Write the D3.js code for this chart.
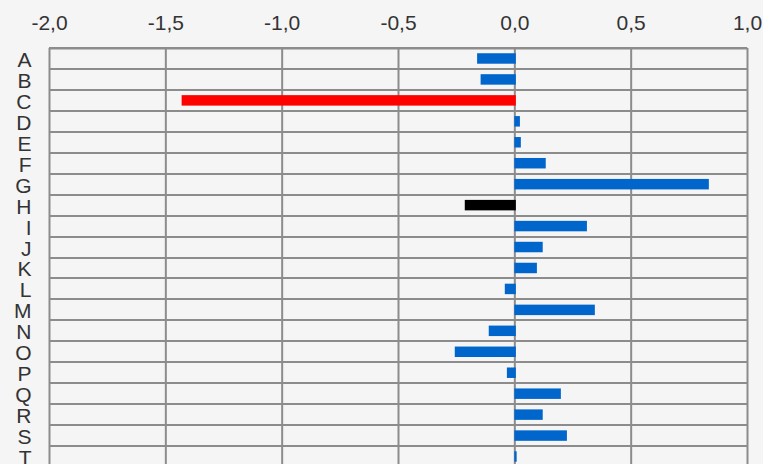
<!DOCTYPE html>
<html>
<head>
<meta charset="utf-8">
<script src="https://cdn.jsdelivr.net/npm/d3@7/dist/d3.min.js"></script>
<style>
  html, body { margin: 0; padding: 0; background: #f5f5f5; overflow: hidden; }
  svg { display: block; }
</style>
</head>
<body>
<svg id="chart" width="763" height="464"></svg>
<script>
const categories = ["A","B","C","D","E","F","G","H","I","J","K","L","M","N","O","P","Q","R","S","T"];
const values = [-0.16,-0.145,-1.43,0.024,0.028,0.135,0.836,-0.213,0.312,0.122,0.097,-0.041,0.346,-0.11,-0.256,-0.032,0.2,0.122,0.226,0.01];
const highlight = {"C": "#ff0000", "H": "#000000"};
const tickValues = [-2.0,-1.5,-1.0,-0.5,0.0,0.5,1.0];
const tickLabels = ["-2,0","-1,5","-1,0","-0,5","0,0","0,5","1,0"];

const svg = d3.select("#chart");
const plotLeft = 49, plotRight = 747, plotTop = 48, rowH = 20.95;
const plotBottom = plotTop + rowH * categories.length;

const x = d3.scaleLinear().domain([-2, 1]).range([plotLeft, plotRight]);
const y = d3.scaleBand().domain(categories).range([plotTop, plotBottom]).paddingInner(0.5).paddingOuter(0.25);
const row = d3.scaleLinear().domain([0, categories.length]).range([plotTop, plotBottom]);

const gridColor = "#8c8c8c";

// horizontal grid lines
svg.append("g").selectAll("line")
  .data(d3.range(categories.length + 1))
  .join("line")
  .attr("x1", plotLeft).attr("x2", plotRight)
  .attr("y1", d => Math.round(row(d))).attr("y2", d => Math.round(row(d)))
  .attr("stroke", gridColor).attr("stroke-width", 2);

// top axis with vertical grid lines
const axis = d3.axisTop(x)
  .tickValues(tickValues)
  .tickFormat((d, i) => tickLabels[i])
  .tickSize(-(plotBottom - plotTop))
  .tickSizeOuter(0)
  .tickPadding(18);

const gx = svg.append("g").attr("transform", `translate(0,${plotTop})`).call(axis);
gx.select(".domain").attr("stroke", gridColor).attr("stroke-width", 2);
gx.selectAll(".tick line").attr("stroke", gridColor).attr("stroke-width", 2);
gx.selectAll(".tick text")
  .attr("fill", "#333333")
  .style("font-family", "'Liberation Sans', Arial, sans-serif")
  .style("font-size", "21px");

// bars
svg.append("g").selectAll("rect")
  .data(categories.map((c, i) => ({c, v: values[i]})))
  .join("rect")
  .attr("x", d => Math.min(x(d.v), x(0)))
  .attr("width", d => Math.abs(x(d.v) - x(0)) + (d.v < 0 ? 1.5 : 0))
  .attr("y", d => y(d.c))
  .attr("height", y.bandwidth())
  .attr("fill", d => highlight[d.c] || "#0066cc");

// category labels
svg.append("g").selectAll("text")
  .data(categories)
  .join("text")
  .attr("x", 31.5)
  .attr("y", d => y(d) + y.bandwidth() / 2 + 8.5)
  .attr("text-anchor", "end")
  .attr("fill", "#333333")
  .style("font-family", "'Liberation Sans', Arial, sans-serif")
  .style("font-size", "21px")
  .text(d => d);
</script>
</body>
</html>
